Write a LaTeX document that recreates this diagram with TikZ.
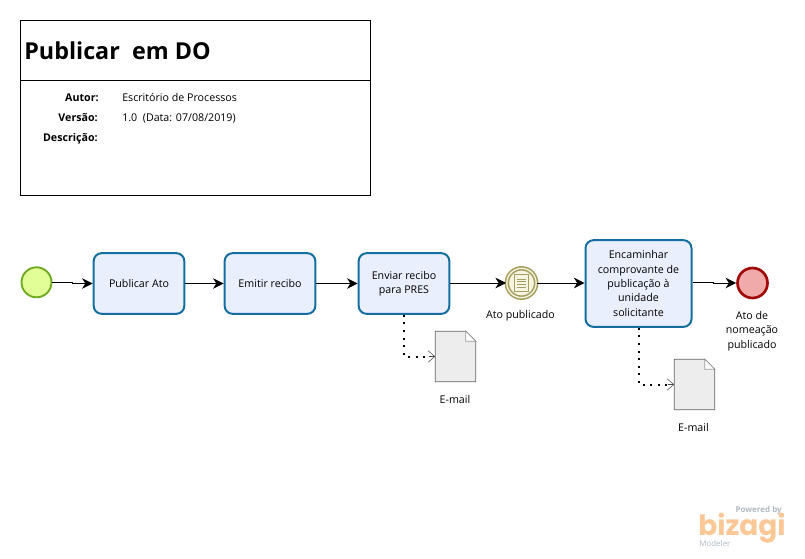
\documentclass[tikz,border=0pt]{standalone}
\usepackage{fontspec}
\setmainfont{Open Sans}
\newfontfamily\logofont{Poppins}
\usetikzlibrary{arrows.meta,positioning}
\definecolor{taskline}{RGB}{20,110,160}
\definecolor{taskfill}{RGB}{234,239,253}
\definecolor{startline}{RGB}{110,170,30}
\definecolor{startfill}{RGB}{225,255,150}
\definecolor{endline}{RGB}{160,10,10}
\definecolor{endfill}{RGB}{240,170,170}
\definecolor{midline}{RGB}{165,160,95}
\definecolor{midfill}{RGB}{245,245,225}
\definecolor{logoorange}{RGB}{250,200,150}
\definecolor{logogray}{RGB}{175,185,195}
\tikzset{
	task/.style={draw=taskline,fill=taskfill,line width=1.5pt,rounded corners=6pt,align=center,font=\fontsize{8}{10.7}\selectfont,inner sep=0pt},
	startev/.style={circle,draw=startline,fill=startfill,line width=1.4pt,minimum size=22.5pt,inner sep=0pt},
	endev/.style={circle,draw=endline,fill=endfill,line width=2pt,minimum size=22.5pt,inner sep=0pt},
	midev/.style={circle,draw=midline,fill=midfill,line width=1.2pt,minimum size=22pt,inner sep=0pt,double=midfill,double distance=1pt},
	doc/.style={minimum width=30pt,minimum height=37.5pt,inner sep=0pt},
	lbl/.style={align=center,font=\fontsize{8}{10.7}\selectfont},
	flow/.style={-{Stealth[length=8pt,width=8pt,inset=2.5pt]},line width=0.75pt},
	assoc/.style={line width=1.5pt,dash pattern=on 1.5pt off 4.2pt},
	assochead/.style={-{Straight Barb[length=5pt,width=8.5pt]},line width=0.4pt,black!70},
	info/.style={anchor=base west,inner sep=0pt,font=\fontsize{8}{10}\selectfont},
	infokey/.style={anchor=base east,inner sep=0pt,font=\fontsize{8}{10}\selectfont\bfseries}
}
% folha com canto dobrado
\newcommand{\docfold}[1]{
	\draw[fill=black!7,draw=black!60,line width=0.7pt] (#1.north west) -- ([xshift=-7.5pt]#1.north east) -- ([yshift=-7.5pt]#1.north east) -- (#1.south east) -- (#1.south west) -- cycle;
	\draw[fill=white,draw=black!40,line width=0.5pt] ([xshift=-7.5pt]#1.north east) -- ([xshift=-7.5pt,yshift=-7.5pt]#1.north east) -- ([yshift=-7.5pt]#1.north east) -- cycle;
}
\begin{document}
\begin{tikzpicture}[x=0.75pt,y=-0.75pt]
	\useasboundingbox (0,0) rectangle (805,558);
	% cabecalho
	\node[draw,line width=0.7pt,minimum width=262.5pt,minimum height=131.25pt,inner sep=0pt,anchor=north west] (frame) at (20,20) {};
	\coordinate (ruleL) at (20,80);
	\coordinate (ruleR) at (370,80);
	\draw[line width=0.7pt] (ruleL) -- (ruleR);
	\node[anchor=west,inner sep=0pt,font=\fontsize{17.5}{19}\selectfont\bfseries] (title) at (24,51) {Publicar\ \ em DO};
	\node[infokey] (autorK) at (99,101) {Autor:};
	\node[infokey] (versaoK) at (98,121) {Versão:};
	\node[infokey] (descK) at (98,141) {Descrição:};
	\node[info] (autorV) at (122,101) {Escritório de Processos};
	\node[info] (versaoV) at (122,121) {1.0\ \ (Data: 07/08/2019)};
	% eventos e tarefas
	\node[startev] (inicio) at (36.5,282.3) {};
	\node[task,minimum width=68pt,minimum height=45.5pt] (publicar) at (139,283.5) {Publicar Ato};
	\node[task,minimum width=68pt,minimum height=45.5pt] (emitir) at (270,283.5) {Emitir recibo};
	\node[task,minimum width=68pt,minimum height=45.5pt] (enviar) at (404,283.5) {Enviar recibo\\para PRES};
	\node[midev] (ato) at (521.5,283) {};
	\node[task,minimum width=79.5pt,minimum height=65pt] (encaminhar) at (638.5,283.5) {Encaminhar\\comprovante de\\publicação à\\unidade\\solicitante};
	\node[endev] (fim) at (752.5,283) {};
	% icone do evento
	\node[draw=midline,fill=midfill,line width=0.6pt,minimum width=10pt,minimum height=13pt,inner sep=0pt] (icone) at (ato) {};
	\foreach \k in {-3,-1,1,3}
		\draw[midline,line width=0.5pt] ([xshift=-3.5pt,yshift=\k pt]icone.center) -- ([xshift=3.5pt,yshift=\k pt]icone.center);
	% rotulos
	\node[lbl] (atoL) at (520.5,316) {Ato publicado};
	\node[lbl] (fimL) at (752,331) {Ato de\\nomeação\\publicado};
	\node[doc] (mail1) at (455.5,356.5) {};
	\node[doc] (mail2) at (694.5,384.5) {};
	\docfold{mail1}
	\docfold{mail2}
	\node[lbl] (mail1L) at (455,399) {E-mail};
	\node[lbl] (mail2L) at (693.5,427) {E-mail};
	% fluxos
	\coordinate (j1a) at (72,282.3);
	\coordinate (j1b) at (72,283.5);
	\draw[flow] (inicio.east) -- (j1a) -- (j1b) -- (publicar.west);
	\draw[flow] (publicar) -- (emitir);
	\draw[flow] (emitir) -- (enviar);
	\draw[flow] (enviar.east |- ato) -- (ato);
	\draw[flow] (ato) -- (encaminhar.west |- ato);
	\coordinate (j2a) at (713,282);
	\coordinate (j2b) at (713,283);
	\draw[flow] (encaminhar.east |- j2a) -- (j2a) -- (j2b) -- (fim.west);
	% associacoes
	\draw[assoc] (enviar.south) -- (enviar.south |- mail1.west) -- ([xshift=-5pt]mail1.west);
	\draw[assochead] ([xshift=-5pt]mail1.west) -- (mail1.west);
	\draw[assoc] (encaminhar.south) -- (encaminhar.south |- mail2.west) -- ([xshift=-5pt]mail2.west);
	\draw[assochead] ([xshift=-5pt]mail2.west) -- (mail2.west);
	% marca
	\node[anchor=east,inner sep=0pt,text=logogray,font=\fontsize{6}{7}\selectfont\bfseries] (powered) at (782,510) {Powered by};
	\node[anchor=base west,inner sep=0pt,text depth=0pt,text=logoorange,font=\logofont\fontsize{21}{24}\selectfont\bfseries] (bizagi) at (698,535) {bizagi};
	\node[anchor=west,inner sep=0pt,text=logogray,font=\fontsize{6}{7}\selectfont] (modeler) at (699,543) {Modeler};
\end{tikzpicture}
\end{document}
